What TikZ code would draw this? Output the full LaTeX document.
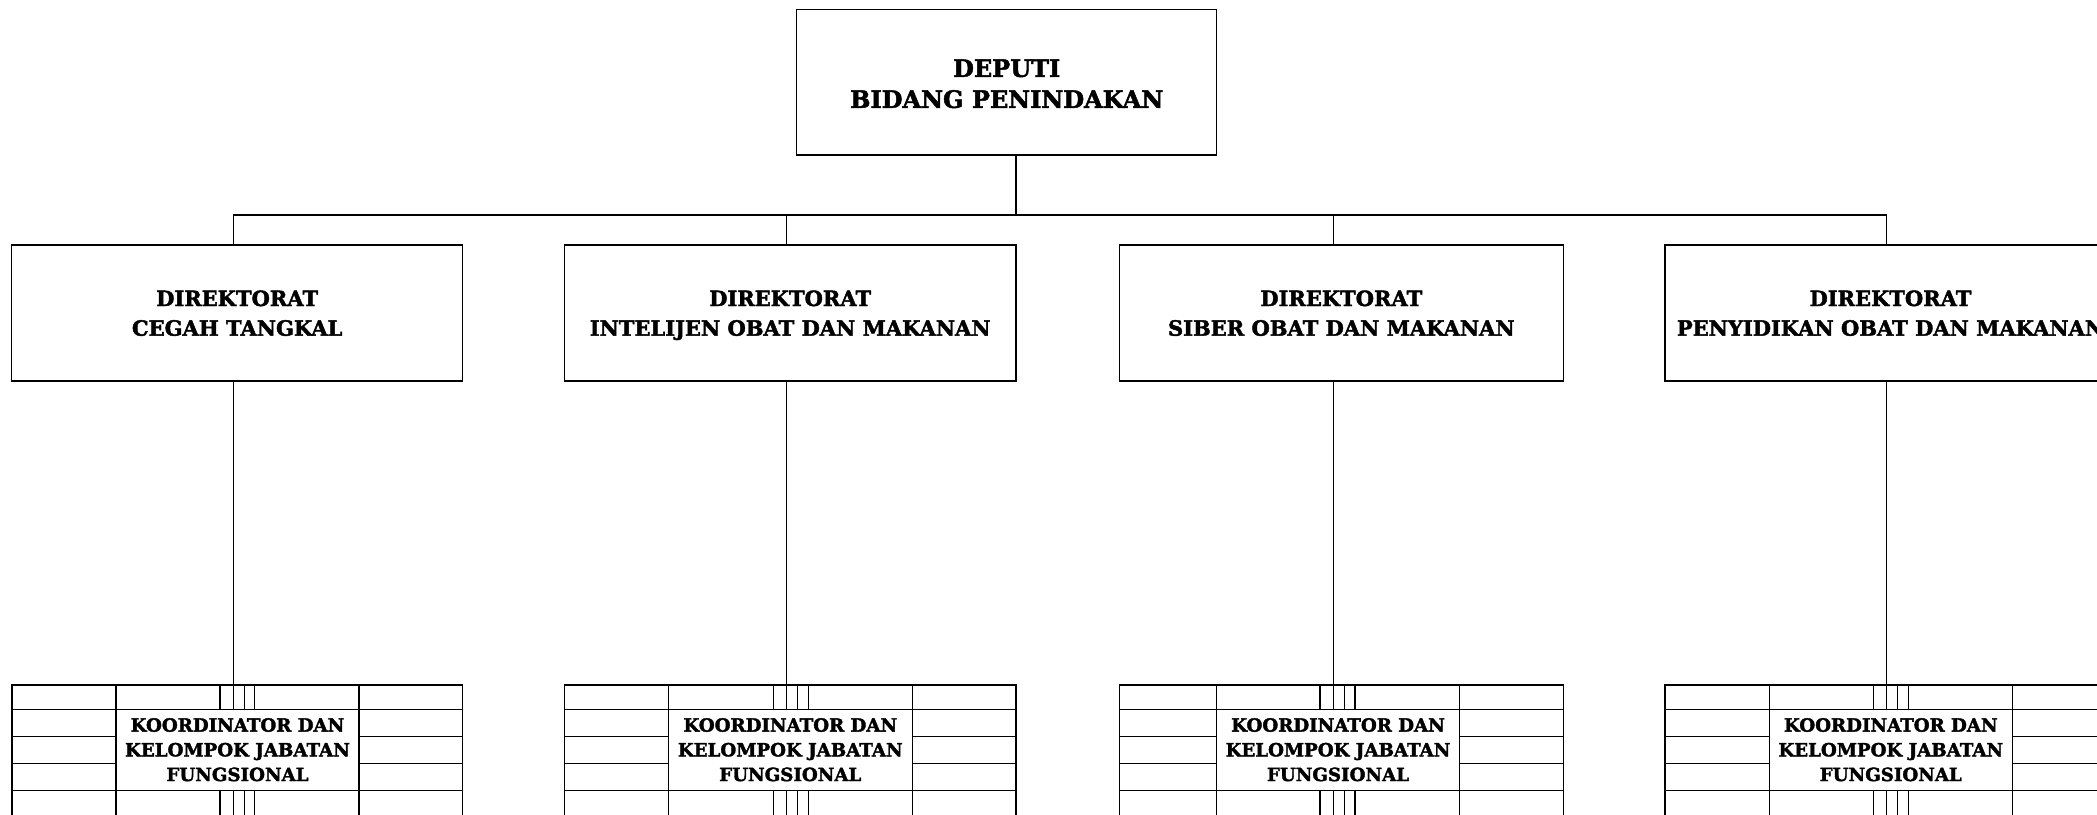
\documentclass[tikz,border=0pt]{standalone}
\usepackage{fontspec}
\setmainfont{DejaVu Serif}[BoldFeatures={FakeBold=2}]
\newcommand\kgrid[8]{%
  \draw (#1,685) rectangle (#8,840);
  \draw (#1,709.3) -- (#8,709.3) (#1,790.7) -- (#8,790.7);
  \draw (#1,736.7) -- (#2,736.7) (#1,763.3) -- (#2,763.3)
        (#7,736.7) -- (#8,736.7) (#7,763.3) -- (#8,763.3);
  \draw (#2,685) -- (#2,840) (#7,685) -- (#7,840);
  \foreach \xx in {#3,#5,#6} {\draw (\xx,685) -- (\xx,709.3);}
  \foreach \xx in {#3,#4,#5,#6} {\draw (\xx,790.7) -- (\xx,840);}
}
\newcommand\depfirst{\rule{0pt}{14.85pt}}
\newcommand\dirfirst{\rule{0pt}{12.3pt}}
\newcommand\kfirst{\rule{0pt}{10.05pt}}
\newcommand\ktext{\kfirst KOORDINATOR DAN\\KELOMPOK JABATAN\\\strut FUNGSIONAL}
\begin{document}
\begin{tikzpicture}[x=0.5pt,y=-0.5pt,line width=0.75pt,
  depbox/.style={draw,rectangle,inner sep=0pt,align=center,
    minimum width=210pt,minimum height=72.85pt,
    font=\bfseries\fontsize{12}{15.5}\selectfont},
  dirbox/.style={draw,rectangle,inner sep=0pt,align=center,
    minimum height=68pt,
    font=\bfseries\fontsize{10.5}{14.85}\selectfont},
  kbox/.style={draw,fill=white,rectangle,inner sep=0pt,align=center,
    minimum height=40.7pt,
    font=\bfseries\fontsize{9.1}{12.35}\selectfont}]
\useasboundingbox (0,0) rectangle (2097,814);
\clip (0,0) rectangle (2097,814);

\node[depbox] (dep) at (1006.7,82.2) {\depfirst DEPUTI\\\strut BIDANG PENINDAKAN};

\node[dirbox,minimum width=225.5pt] (d1) at (237.2,313) {\dirfirst DIREKTORAT\\\strut CEGAH TANGKAL};
\node[dirbox,minimum width=225.8pt] (d2) at (790.2,313) {\dirfirst DIREKTORAT\\\strut INTELIJEN OBAT DAN MAKANAN};
\node[dirbox,minimum width=222pt] (d3) at (1341.3,313) {\dirfirst DIREKTORAT\\\strut SIBER OBAT DAN MAKANAN};
\node[dirbox,minimum width=225.5pt] (d4) at (1890.5,313) {\dirfirst DIREKTORAT\\\strut PENYIDIKAN OBAT DAN MAKANAN};

\coordinate (bus) at (1016,215);
\coordinate (c1) at (233.3,215);
\coordinate (c2) at (786.7,215);
\coordinate (c3) at (1333.3,215);
\coordinate (c4) at (1886.7,215);

\draw (dep.south -| bus) -- (bus);
\draw (c1) -- (c4);
\foreach \i in {1,2,3,4} {\draw (c\i) -- (c\i |- d\i.north);}

\kgrid{12}{116}{220}{233.3}{244.3}{254.3}{359}{462.7}
\kgrid{564.3}{668.3}{773.3}{786.7}{797.7}{808.3}{912.3}{1016}
\kgrid{1119.3}{1216.7}{1320}{1333.3}{1344.3}{1355}{1459.3}{1563.3}
\kgrid{1665}{1769.3}{1873.3}{1886.7}{1897.3}{1908.3}{2012.3}{2116}

\node[kbox,minimum width=121.5pt] (k1) at (237.5,750) {\ktext};
\node[kbox,minimum width=122pt] (k2) at (790.3,750) {\ktext};
\node[kbox,minimum width=121.3pt] (k3) at (1338,750) {\ktext};
\node[kbox,minimum width=121.5pt] (k4) at (1890.8,750) {\ktext};

\foreach \i in {1,2,3,4} {\draw (c\i |- d\i.south) -- (c\i |- k\i.north);}
\end{tikzpicture}
\end{document}
